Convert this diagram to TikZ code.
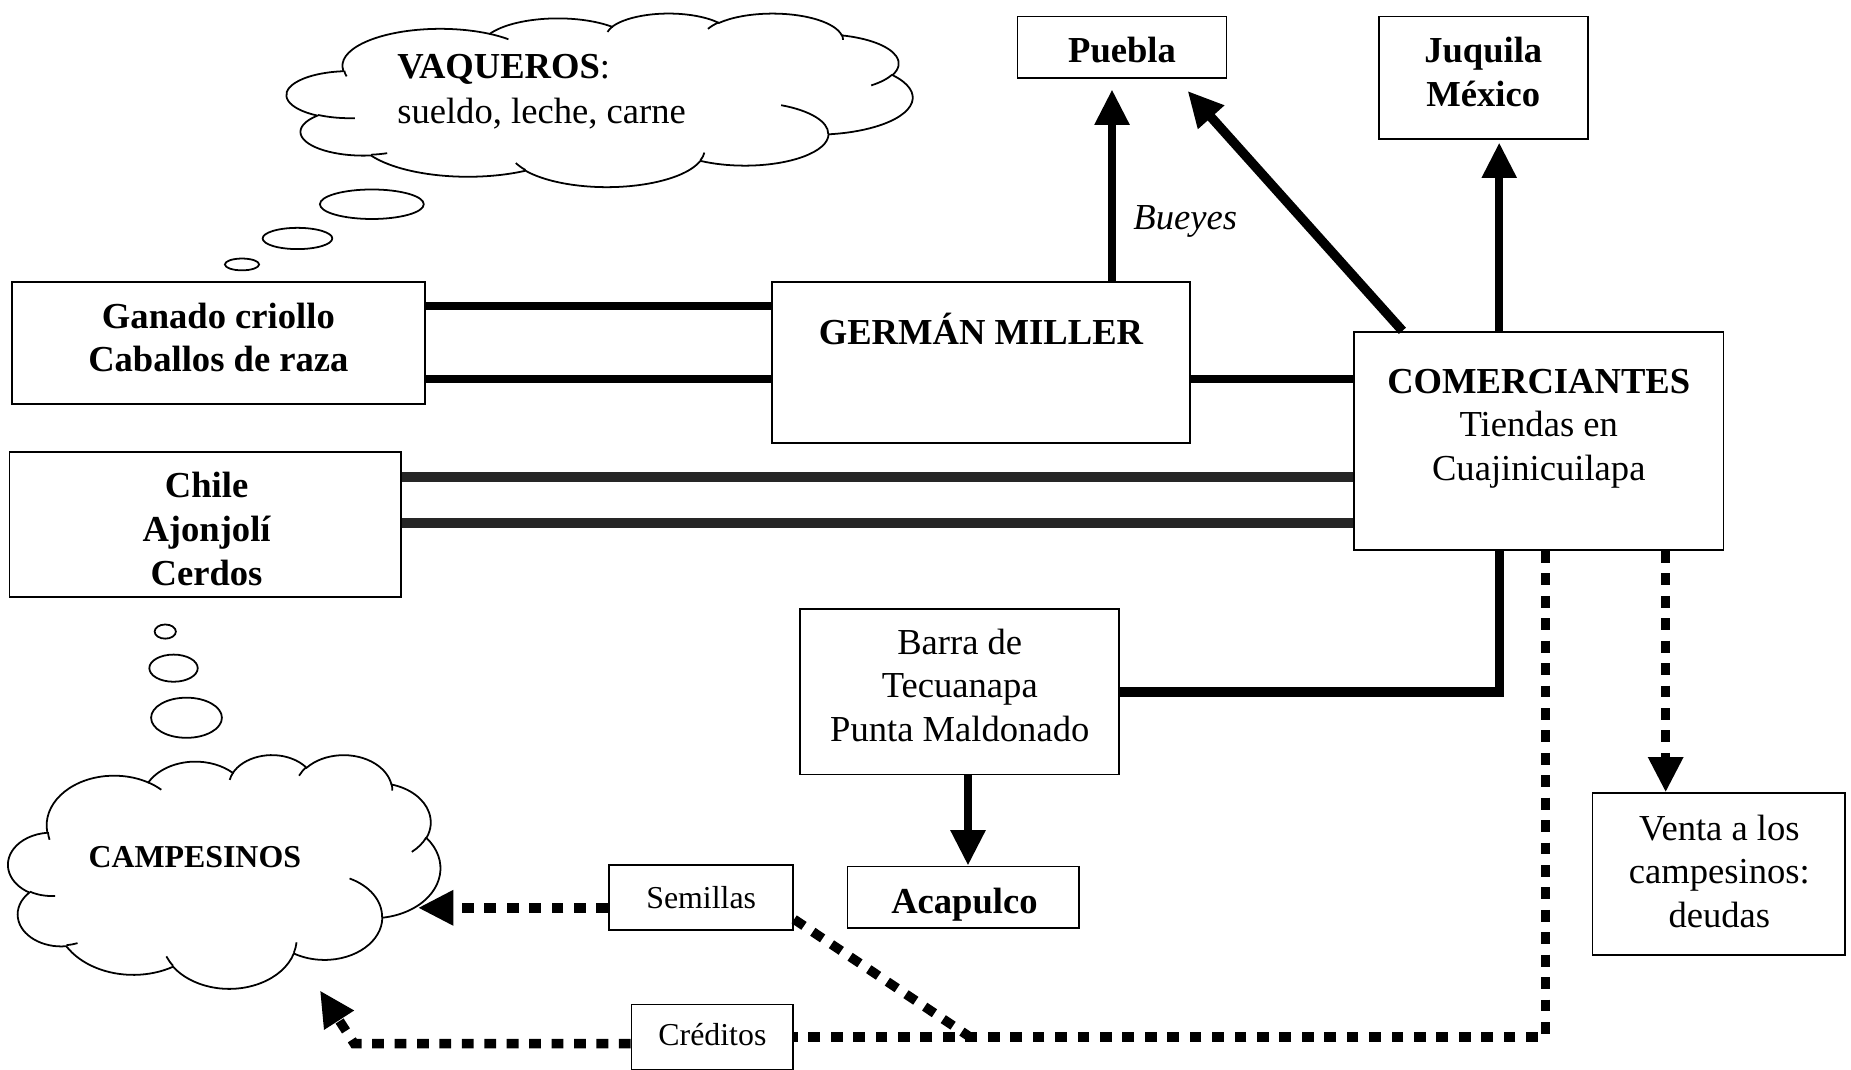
\documentclass[tikz,border=0pt]{standalone}
\usepackage{fontspec}
\setmainfont{Liberation Serif}
\usetikzlibrary{arrows.meta,shapes.geometric}
% Word-style cloud: #1,#2 top-left corner, #3 width, #4 height
\newcommand\ooCloud[4]{%
  \pgfmathsetmacro\ccx{#3/4320}%
  \pgfmathsetmacro\ccy{#4/4320}%
  \begin{scope}[shift={(#1,#2)}, x={(\ccx pt,0pt)}, y={(0pt,-\ccy pt)}]
    \draw[cloudline] (390,1437)
      \foreach \ww/\hh/\st/\sw in {675.3/919.0/-190.4875/123.7805,
          533.3/726.7/-144.1024/89.9452,
          436.5/594.5/-145.8079/99.7230,
          485.7/659.5/-130.9861/117.2417,
          533.3/727.3/-78.7089/109.0269,
          677.5/922.0/-46.2673/130.2690,
          578.5/786.7/0.6250/114.0333,
          675.2/921.5/22.4516/115.1726,
          772.0/1054.3/66.2426/75.7110,
          436.0/591.8/-274.9421/146.7356,
          434.5/594.5/-246.8285/152.5189}
      { arc[x radius=\ww, y radius=\hh,
            start angle={atan2(\ww*sin(\st),\hh*cos(\st))},
            delta angle={mod(atan2(\ww*sin(\st+\sw),\hh*cos(\st+\sw))-atan2(\ww*sin(\st),\hh*cos(\st))+720,360)}] }
      -- cycle;
    \foreach \px/\py/\ww/\hh/\st/\sw in {469.3/2617.7/434.5/594.5/86.7420/26.4295,
          692.8/3489.9/436.0/591.8/73.6105/11.4475,
          1647.8/3909.0/675.2/921.5/137.6242/14.0811,
          2882.7/3475.1/675.2/921.5/6.4533/15.9984,
          3412.9/2295.4/578.5/786.7/-70.2924/70.9174,
          4179.8/1535.4/533.3/727.3/30.3180/27.7515,
          3832.4/542.6/485.7/659.5/-13.7443/14.8524,
          2907.8/395.2/485.7/659.5/-149.1815/18.1849,
          2214.1/472.0/436.5/594.5/-163.4943/17.6879,
          1400.0/519.2/675.3/919.0/-66.7070/12.3194,
          412.7/1578.9/675.3/919.0/162.0364/11.8582}
      { \draw[cloudline] (\px,\py) arc[x radius=\ww, y radius=\hh,
            start angle={atan2(\ww*sin(\st),\hh*cos(\st))},
            delta angle={mod(atan2(\ww*sin(\st+\sw),\hh*cos(\st+\sw))-atan2(\ww*sin(\st),\hh*cos(\st))+720,360)}]; }
  \end{scope}}
\begin{document}
\begin{tikzpicture}[x=1pt,y=-1pt,
  box/.style={draw, line width=1.5pt, inner sep=0pt},
  txt/.style={align=center, font=\fontsize{31}{37}\selectfont},
  btxt/.style={txt, font=\fontsize{31}{37}\selectfont\bfseries},
  stxt/.style={txt, font=\fontsize{27}{32}\selectfont},
  conn/.style={line width=7pt},
  grainy/.style={line width=8pt, draw=black!85},
  dots/.style={line width=8pt, dash pattern=on 10pt off 9pt},
  tip/.style={-{Triangle[length=30pt,width=28pt]}},
  bub/.style={ellipse, draw, line width=1.5pt, inner sep=0pt},
  cloudline/.style={line width=1.5pt}]

\useasboundingbox (0,0) rectangle (1568,906);

% boxes
\node[box, minimum width=177pt, minimum height=52pt] (puebla) at (950.5,40) {};
\node[btxt] (pueblaT) at (950.5,42) {Puebla};
\node[box, minimum width=177pt, minimum height=104pt] (juquila) at (1256.5,66) {};
\node[btxt] (juquilaT) at (1256.5,61) {Juquila\\México};
\node[box, minimum width=350pt, minimum height=103pt] (ganado) at (185,290.5) {};
\node[btxt] (ganadoT) at (185,286) {Ganado criollo\\Caballos de raza};
\node[box, minimum width=354pt, minimum height=136pt] (german) at (831,307) {};
\node[btxt] (germanT) at (831,279) {GERMÁN MILLER};
\node[box, minimum width=313pt, minimum height=185pt] (comer) at (1303.5,373.5) {};
\node[txt] (comerT) at (1303.5,363) {\textbf{COMERCIANTES}\\Tiendas en\\Cuajinicuilapa};
\node[box, minimum width=332pt, minimum height=123pt] (chile) at (174,444.5) {};
\node[btxt] (chileT) at (175,448) {Chile\\Ajonjolí\\Cerdos};
\node[box, minimum width=270pt, minimum height=140pt] (barra) at (813,586) {};
\node[txt] (barraT) at (813,580.5) {Barra de\\Tecuanapa\\Punta Maldonado};
\node[box, minimum width=196pt, minimum height=52pt] (acapulco) at (816,760) {};
\node[btxt] (acapulcoT) at (817,766) {Acapulco};
\node[box, minimum width=214pt, minimum height=137pt] (venta) at (1456,740.5) {};
\node[txt] (ventaT) at (1456.5,738) {Venta a los\\campesinos:\\deudas};
\node[box, minimum width=156pt, minimum height=55pt] (semillas) at (594,760.5) {};
\node[stxt] (semillasT) at (594,760) {Semillas};
\node[box, minimum width=137pt, minimum height=55pt] (creditos) at (603.5,878.5) {};
\node[stxt] (creditosT) at (603.5,876) {Créditos};

% clouds
\ooCloud{243}{11}{530}{147}
\node[anchor=west, align=left, font=\fontsize{31}{38}\selectfont] (vaqT) at (333,78) {\textbf{VAQUEROS}:\\sueldo, leche, carne};
\node[bub, minimum width=88pt, minimum height=25pt] (vb1) at (315,173) {};
\node[bub, minimum width=59pt, minimum height=18pt] (vb2) at (252,202) {};
\node[bub, minimum width=29pt, minimum height=10pt] (vb3) at (205,224) {};

\ooCloud{7}{639}{366}{198}
\node[font=\fontsize{27}{32}\selectfont\bfseries] (campT) at (165,726) {CAMPESINOS};
\node[bub, minimum width=18pt, minimum height=12pt] (cb1) at (140,535) {};
\node[bub, minimum width=41pt, minimum height=23pt] (cb2) at (147,566) {};
\node[bub, minimum width=60pt, minimum height=34pt] (cb3) at (158,608) {};

% coordinates
\coordinate (pTip) at (1006,77);
\coordinate (junc) at (824,880);
\coordinate (campS) at (354,769);
\coordinate (credBend) at (300,884);
\coordinate (campC) at (271,839);

% solid connectors
\draw[conn] (ganado.east |- 0,259) -- (german.west |- 0,259);
\draw[conn] (ganado.east |- 0,321) -- (german.west |- 0,321);
\draw[conn] (german.east |- 0,321) -- (comer.west |- 0,321);
\draw[grainy] (chile.east |- 0,404) -- (comer.west |- 0,404);
\draw[grainy] (chile.east |- 0,443) -- (comer.west |- 0,443);
\draw[conn, tip, shorten >=9pt] (german.north -| 942,0) -- (puebla.south -| 942,0);
\node[font=\fontsize{31}{38}\selectfont\itshape] (bueyes) at (1004,188) {Bueyes};
\draw[conn, line width=8pt, tip] (comer.north -| 1188,0) -- (pTip);
\draw[conn, tip, shorten >=2pt] (comer.north -| 1270,0) -- (juquila.south -| 1270,0);
\draw[conn, line width=8pt] (comer.south -| 1270,0) |- (barra.east);
\draw[conn, tip] (barra.south -| 820,0) -- (acapulco.north -| 820,0);

% dotted connectors
\draw[dots, tip] (comer.south -| 1411,0) -- (venta.north -| 1411,0);
\draw[dots] (comer.south -| 1309,0) |- (creditos.east);
\draw[dots] ([yshift=10pt]semillas.south east) -- (junc);
\draw[dots, tip] (semillas.west |- campS) -- (campS);
\draw[dots, tip] (creditos.west |- credBend) -- (credBend) -- (campC);
\end{tikzpicture}
\end{document}
